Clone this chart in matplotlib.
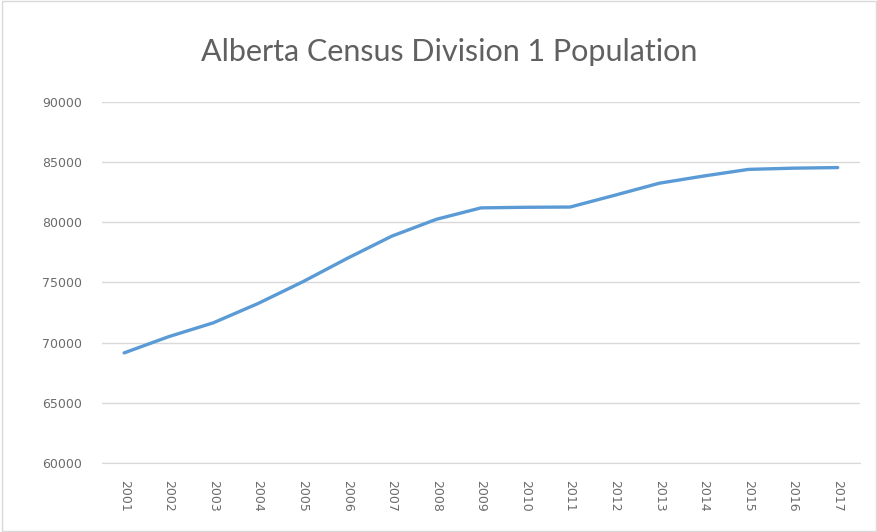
import matplotlib.pyplot as plt

# Population values
years = [2001, 2002, 2003, 2004, 2005, 2006, 2007, 2008, 2009,
         2010, 2011, 2012, 2013, 2014, 2015, 2016, 2017]
population = [69150, 70500, 71650, 73250, 75050, 77000, 78850, 80250, 81200,
              81250, 81270, 82250, 83250, 83850, 84400, 84500, 84550]
yticks = [60000, 65000, 70000, 75000, 80000, 85000, 90000]

fig = plt.figure(figsize=(8.78, 5.32), dpi=100)
ax = fig.add_axes([0.116, 0.1297, 0.8635, 0.6786])

pos = list(range(len(years)))
ax.plot(pos, population, color='#5B9BD5', linewidth=2.4, solid_capstyle='round')

ax.set_xlim(-0.5, len(years) - 0.5)
ax.set_ylim(60000, 90000)
ax.set_yticks(yticks)
ax.set_yticklabels([str(v) for v in yticks])
ax.set_xticks(pos)
ax.set_xticklabels([str(y) for y in years], rotation=270)

ax.grid(axis='y', color='#D9D9D9', linewidth=1)
ax.set_axisbelow(True)
for side in ['top', 'right', 'left']:
    ax.spines[side].set_visible(False)
ax.spines['bottom'].set_color('#D9D9D9')
ax.tick_params(length=0, colors='#6b6b6b', labelsize=9)
ax.tick_params(axis='y', pad=14)
ax.tick_params(axis='x', pad=12)

fig.text(0.512, 0.903, 'Alberta Census Division 1 Population', ha='center', va='center',
         fontsize=22, color='#606060', family='Lato')

# chart-area border
fig.patches.append(plt.Rectangle((0.002, 0.002), 0.996, 0.996, transform=fig.transFigure,
                                 fill=False, edgecolor='#D9D9D9', linewidth=1))

fig.savefig('out.png', dpi=100)
